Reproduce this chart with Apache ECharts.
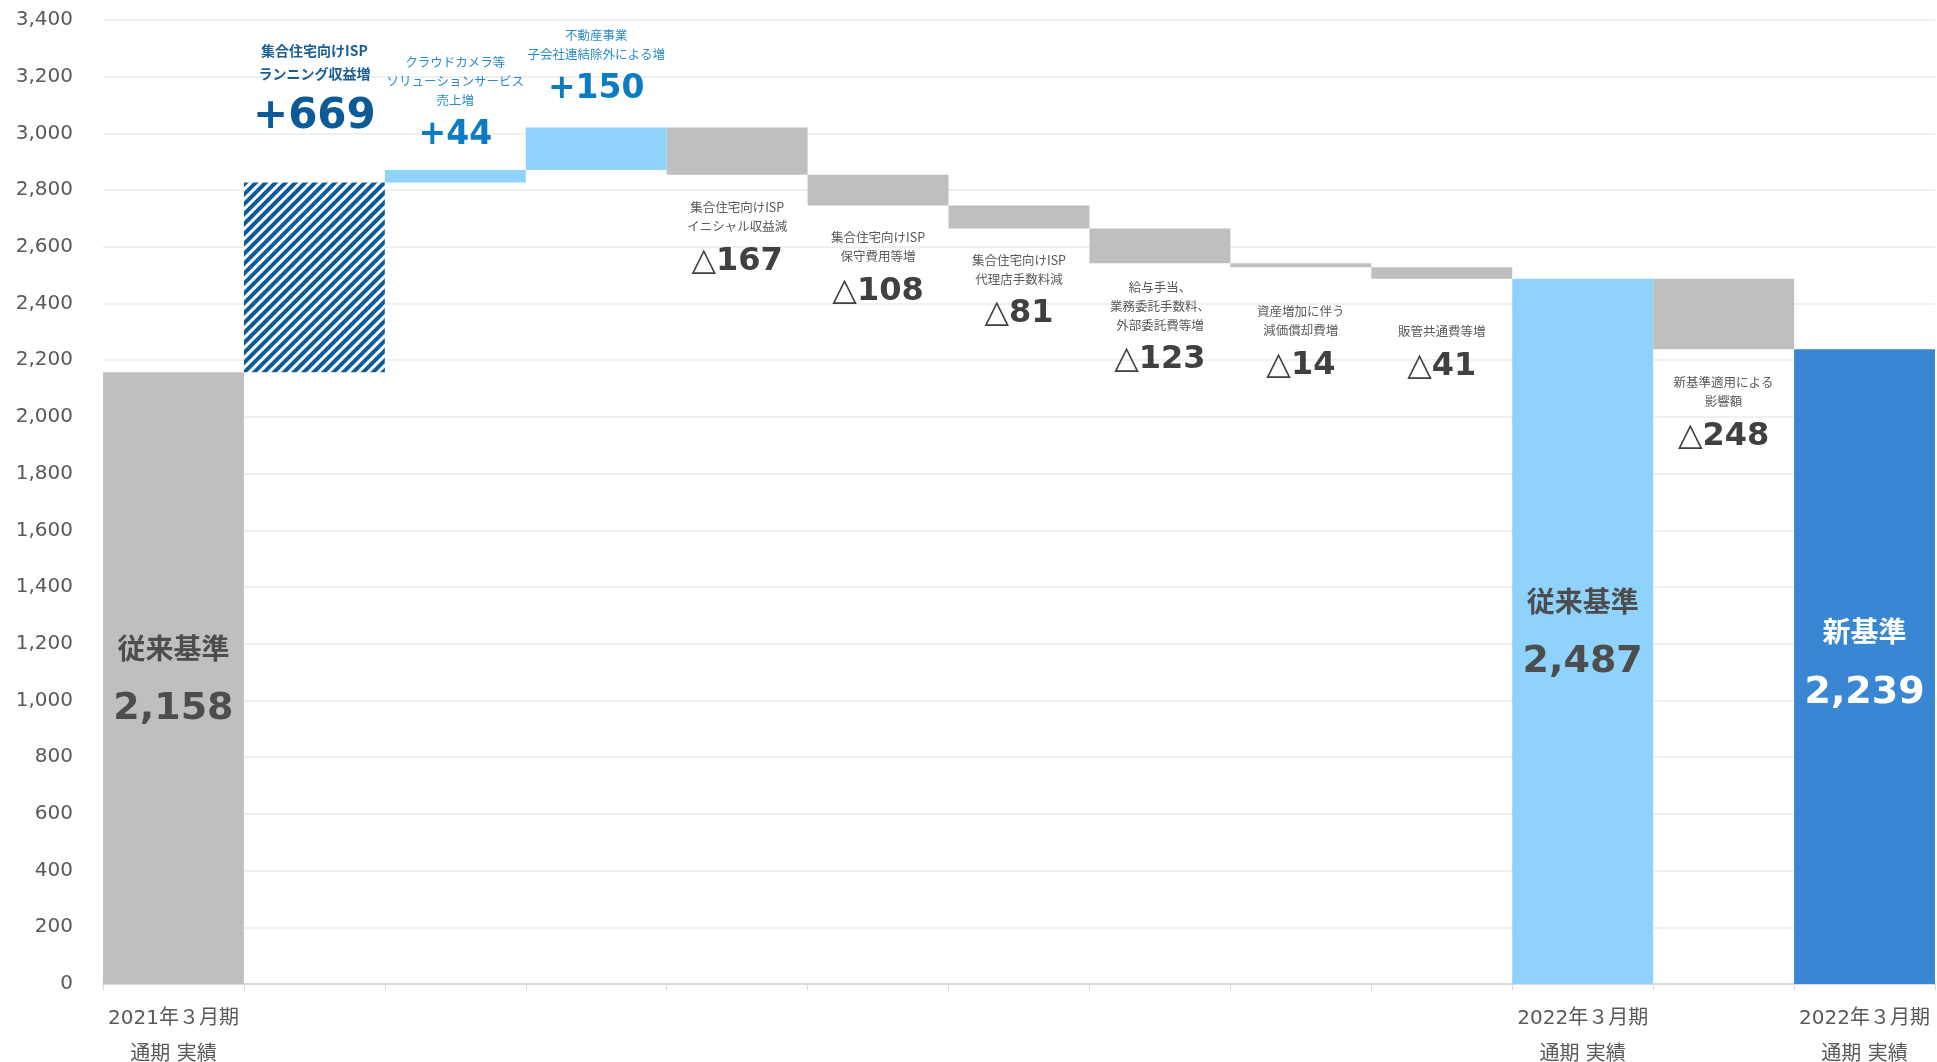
<!DOCTYPE html>
<html>
<head>
<meta charset="utf-8">
<script src="https://cdn.jsdelivr.net/npm/echarts@6/dist/echarts.min.js"></script>
<style>
  html, body { margin: 0; padding: 0; background: #ffffff; }
  #chart { width: 1937px; height: 1062px; }
</style>
</head>
<body>
<div id="chart"></div>
<script>
// 営業利益 増減要因（百万円）
const steps = [
  '2021年3月期 実績', 'ランニング収益増', 'ソリューションサービス売上増', '子会社連結除外',
  'イニシャル収益減', '保守費用等増', '代理店手数料減', '給与・委託費等増',
  '減価償却費増', '販管共通費等増', '2022年3月期 従来基準', '新基準適用影響', '2022年3月期 新基準'
];
const periodLabels = [
  '2021年３月期\n通期 実績', '', '', '', '', '', '', '', '', '',
  '2022年３月期\n通期 実績', '', '2022年３月期\n通期 実績'
];
const startTotal = 2158;
const changes = [669, 44, 150, -167, -108, -81, -123, -14, -41];
const changeNotes = [
  ['集合住宅向けISP', 'ランニング収益増'],
  ['クラウドカメラ等', 'ソリューションサービス', '売上増'],
  ['不動産事業', '子会社連結除外による増'],
  ['集合住宅向けISP', 'イニシャル収益減'],
  ['集合住宅向けISP', '保守費用等増'],
  ['集合住宅向けISP', '代理店手数料減'],
  ['給与手当、', '業務委託手数料、', '外部委託費等増'],
  ['資産増加に伴う', '減価償却費増'],
  ['販管共通費等増']
];
const oldBasisTotal = 2487;
const basisChange = -248;
const basisNote = ['新基準適用による', '影響額'];
const newBasisTotal = 2239;
const yTickValues = [0, 200, 400, 600, 800, 1000, 1200, 1400, 1600, 1800, 2000, 2200, 2400, 2600, 2800, 3000, 3200, 3400];

const GRAY = '#BFBFBF';
const LIGHT = '#8FD2FC';
const DARK = '#3987D3';
const NAVY = '#0D5A96';
const CJK = '"DejaVu Sans", "Noto Sans CJK JP", sans-serif';
const JP = '"Noto Sans CJK JP", sans-serif';

const fmt = v => v.toLocaleString('en-US');

// gap between each label block and its bar
const labelGap = [33, 9, 12.5, 23, 22.5, 22, 14, 35, 43];
const basisGap = 24;

const rich = {
  h: { fontFamily: JP, fontSize: 14, fontWeight: 'bold', color: '#1B5E96', lineHeight: 23 },
  p: { fontFamily: CJK, fontSize: 42, fontWeight: 'bold', color: NAVY, lineHeight: 64 },
  n: { fontFamily: JP, fontSize: 12.5, color: '#2A8BCB', lineHeight: 19 },
  q: { fontFamily: CJK, fontSize: 33, fontWeight: 'bold', color: '#0B7CC4', lineHeight: 51 },
  g: { fontFamily: JP, fontSize: 12.5, color: '#595959', lineHeight: 19 },
  tri: { fontFamily: CJK, fontSize: 32, color: '#404040', lineHeight: 51 },
  d: { fontFamily: CJK, fontSize: 32, fontWeight: 'bold', color: '#404040', lineHeight: 51 },
  t: { fontFamily: JP, fontSize: 28, fontWeight: 'bold', color: '#4D4D4D', lineHeight: 62 },
  v: { fontFamily: CJK, fontSize: 38, fontWeight: 'bold', color: '#4D4D4D', lineHeight: 60 },
  tw: { fontFamily: JP, fontSize: 28, fontWeight: 'bold', color: '#ffffff', lineHeight: 54 },
  vw: { fontFamily: CJK, fontSize: 38, fontWeight: 'bold', color: '#ffffff', lineHeight: 70 }
};

function decreaseText(lines, v) {
  return lines.map(s => '{g|' + s + '}').join('\n') + '\n{tri|△}{d|' + fmt(Math.abs(v)) + '}';
}

// build invisible bases and visible bar heights
const baseData = [];
const barData = [];

baseData.push(0);
barData.push({
  value: startTotal,
  itemStyle: { color: GRAY },
  label: { show: true, position: 'inside', formatter: '{t|従来基準}\n{v|' + fmt(startTotal) + '}' }
});

let running = startTotal;
changes.forEach((c, i) => {
  const lines = changeNotes[i];
  if (c > 0) {
    baseData.push(running);
    let text;
    const item = { value: c };
    if (i === 0) {
      text = lines.map(s => '{h|' + s + '}').join('\n') + '\n{p|+' + fmt(c) + '}';
      item.itemStyle = {
        color: '#ffffff',
        decal: {
          symbol: 'rect',
          dashArrayX: [1, 0],
          dashArrayY: [4, 3],
          rotation: -Math.PI / 4,
          color: '#0B5B9B'
        }
      };
    } else {
      text = lines.map(s => '{n|' + s + '}').join('\n') + '\n{q|+' + fmt(c) + '}';
      item.itemStyle = { color: LIGHT };
    }
    item.label = { show: true, position: 'top', distance: labelGap[i], formatter: text };
    barData.push(item);
  } else {
    baseData.push(running + c);
    barData.push({
      value: -c,
      itemStyle: { color: GRAY },
      label: { show: true, position: 'bottom', distance: labelGap[i], formatter: decreaseText(lines, c) }
    });
  }
  running += c;
});

baseData.push(0);
barData.push({
  value: oldBasisTotal,
  itemStyle: { color: LIGHT },
  label: { show: true, position: 'inside', formatter: '{t|従来基準}\n{v|' + fmt(oldBasisTotal) + '}' }
});

baseData.push(oldBasisTotal + basisChange);
barData.push({
  value: -basisChange,
  itemStyle: { color: GRAY },
  label: { show: true, position: 'bottom', distance: basisGap, formatter: decreaseText(basisNote, basisChange) }
});

baseData.push(0);
barData.push({
  value: newBasisTotal,
  itemStyle: { color: DARK },
  label: { show: true, position: 'inside', formatter: '{tw|新基準}\n{vw|' + fmt(newBasisTotal) + '}' }
});

const chart = echarts.init(document.getElementById('chart'), null, { renderer: 'canvas' });

chart.setOption({
  animation: false,
  backgroundColor: '#ffffff',
  grid: { left: 103, right: 2, top: 20, bottom: 78, containLabel: false, outerBoundsMode: 'none' },
  xAxis: {
    type: 'category',
    data: steps,
    axisLine: { lineStyle: { color: '#D9D9D9', width: 2 } },
    axisTick: { show: true, interval: 0, length: 6, lineStyle: { color: '#D9D9D9', width: 1 } },
    axisLabel: {
      interval: 0,
      margin: 17,
      fontFamily: CJK,
      fontSize: 20,
      lineHeight: 36,
      color: '#595959',
      formatter: (val, idx) => periodLabels[idx]
    }
  },
  yAxis: {
    type: 'value',
    min: yTickValues[0],
    max: yTickValues[yTickValues.length - 1],
    interval: yTickValues[1] - yTickValues[0],
    axisLine: { show: false },
    axisTick: { show: false },
    splitLine: { lineStyle: { color: '#EBEBEB', width: 1.5 } },
    axisLabel: {
      margin: 30,
      fontFamily: '"DejaVu Sans", sans-serif',
      fontSize: 20,
      color: '#595959',
      formatter: v => fmt(v)
    }
  },
  series: [
    {
      type: 'bar',
      stack: 'wf',
      silent: true,
      barCategoryGap: 0,
      itemStyle: { color: 'rgba(0,0,0,0)' },
      data: baseData
    },
    {
      type: 'bar',
      stack: 'wf',
      barCategoryGap: 0,
      label: { rich: rich, align: 'center' },
      data: barData.map(d => Object.assign({}, d, { label: Object.assign({ rich: rich }, d.label) }))
    }
  ]
});
</script>
</body>
</html>
